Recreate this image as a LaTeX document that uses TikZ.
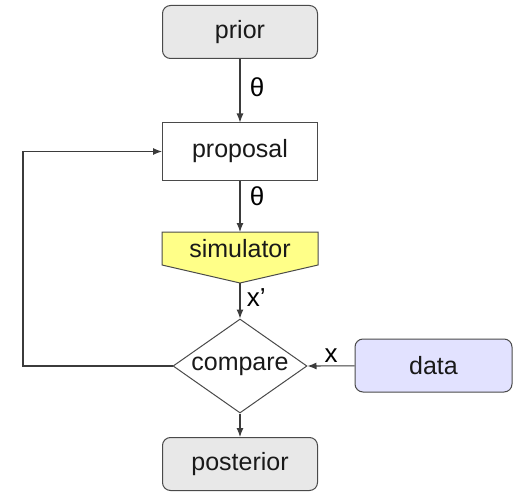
\documentclass[tikz,border=0pt]{standalone}
\usepackage{fontspec}
\setmainfont{Liberation Sans}
\usetikzlibrary{arrows.meta,shapes.geometric}
\definecolor{boxgray}{HTML}{E8E8E8}
\definecolor{simyellow}{HTML}{FFFF88}
\definecolor{datablue}{HTML}{E2E2FF}
\definecolor{edge}{HTML}{4A4A4A}
\begin{document}
\begin{tikzpicture}[x=1pt,y=-1pt,
  every node/.style={font=\fontsize{25}{28}\selectfont, text=black!90},
  rbox/.style={draw=edge, line width=1pt, rounded corners=8pt, minimum width=155pt, minimum height=53pt, inner sep=0pt},
  pbox/.style={draw=edge, line width=1pt, fill=white, minimum width=155pt, minimum height=57pt, inner sep=0pt},
  conn/.style={draw=edge!80!black, line width=1.1pt, -{Latex[length=9pt,width=7pt]}},
  lbl/.style={font=\fontsize{26}{28}\selectfont, text=black}
]
\useasboundingbox (0,0) rectangle (514,492);
\node[rbox, fill=boxgray] (prior) at (240,32) {prior};
\node[pbox] (proposal) at (240,151.5) {proposal};
\draw[edge, line width=1pt, fill=simyellow] (162,232) -- (318,232) -- (318,265) -- (240,283) -- (162,265) -- cycle;
\node (sim) at (240,249) {simulator};
\coordinate (simtop) at (240,232);
\coordinate (simtip) at (240,283);
\node[diamond, draw=edge, line width=1pt, fill=white, minimum width=134pt, minimum height=94pt, inner sep=0pt, aspect=1.43] (compare) at (240,366) {};
\node at (compare.center) {compare};
\node[rbox, fill=datablue, minimum width=157pt] (data) at (433.5,365.5) {data};
\node[rbox, fill=boxgray] (posterior) at (240,464) {posterior};
\coordinate (lb) at (23,366);
\coordinate (lt) at (23,151.5);
\draw[conn] (prior) -- node[lbl, right=6pt, pos=0.45] {θ} (proposal);
\draw[conn] (proposal) -- node[lbl, right=6pt, pos=0.3] {θ} (simtop);
\draw[conn] (simtip) -- node[lbl, right=3pt, pos=0.4] {x’} (compare.north);
\draw[conn] (data) -- node[lbl, above=0pt] {x} (compare.east);
\draw[conn] (compare.south) -- (posterior);
\draw[conn] (compare.west) -- (lb) -- (lt) -- (proposal.west);
\end{tikzpicture}
\end{document}
